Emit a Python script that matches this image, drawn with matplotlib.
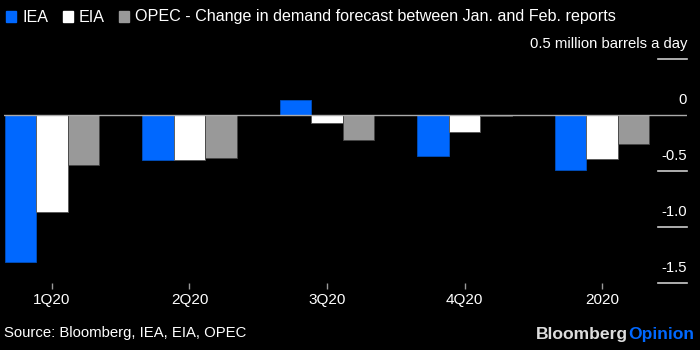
import numpy as np
import matplotlib.pyplot as plt
import matplotlib.transforms as mtransforms
from matplotlib.patches import Rectangle

plt.rcParams['font.family'] = ['Liberation Sans', 'DejaVu Sans']

periods = ['1Q20', '2Q20', '3Q20', '4Q20', '2020']
iea = [-1.31, -0.40, 0.13, -0.37, -0.49]
eia = [-0.87, -0.40, -0.07, -0.15, -0.39]
opec = [-0.45, -0.38, -0.22, -0.01, -0.26]
series = ['IEA', 'EIA', 'OPEC']
colors = ['#0068ff', '#ffffff', '#999999']
edges = ['#0050c0', '#555555', '#444444']
yticks = [0.5, -0.5, -1.0, -1.5]
ylabels = ['0.5 million barrels a day', '-0.5', '-1.0', '-1.5']

fig = plt.figure(figsize=(7, 3.5), dpi=100, facecolor='black')
ax = fig.add_axes([4/700, 67/350, 683/700, 224/350])
ax.set_facecolor('black')

x = np.arange(len(periods))
w = 0.228
for k, vals in enumerate([iea, eia, opec]):
    ax.bar(x + (k - 1) * w, vals, w, color=colors[k], edgecolor=edges[k],
           linewidth=0.6, zorder=2)

ax.axhline(0, color='#aaaaaa', lw=1, zorder=3)
ax.set_xlim(-0.349, 4.618)
ax.set_ylim(-1.5, 0.5)
for s in ax.spines.values():
    s.set_visible(False)

ax.set_xticks(x, periods)
ax.tick_params(axis='x', length=4.5, width=1, color='#999999', labelcolor='white',
               labelsize=11, pad=3)
ax.set_yticks([])

# right side value labels sitting above short tick lines
trans = mtransforms.blended_transform_factory(ax.transAxes, ax.transData)
for yv, lab in zip(yticks, ylabels):
    ax.plot([0.9575, 1.0], [yv, yv], color='#cccccc', lw=1.2, transform=trans,
            clip_on=False, zorder=3)
    ax.annotate(lab, xy=(1.0, yv), xycoords=trans, xytext=(0, 11),
                textcoords='offset points', ha='right', va='center',
                color='white', fontsize=10.7)
ax.annotate('0', xy=(1.0, 0), xycoords=trans, xytext=(0, 11),
            textcoords='offset points', ha='right', va='center',
            color='white', fontsize=10.7)

# legend / title line
ty = 1 - 17/350
sq = [(6, 23, 'IEA'), (63, 79, 'EIA'),
      (119, 135, 'OPEC - Change in demand forecast between Jan. and Feb. reports')]
for (sx, tx, lab), c in zip(sq, colors):
    fig.patches.append(Rectangle((sx/700, 1 - 22/350), 10/700, 11/350,
                                 transform=fig.transFigure, color=c))
    fig.text(tx/700, ty, lab, color='white', fontsize=11.6, va='center', ha='left')

fig.text(4/700, 1 - 333/350, 'Source: Bloomberg, IEA, EIA, OPEC', color='white',
         fontsize=10.7, va='center', ha='left')
op = fig.text(694/700, 1 - 334/350, 'Opinion', color='#0068ff', fontsize=12.6,
              fontweight='bold', va='center', ha='right')
ax.annotate('Bloomberg', xy=(0, 0.5), xycoords=op, ha='right', va='center',
            color='#dddddd', fontsize=12.6, fontweight='bold')

fig.savefig('out.png', dpi=100, facecolor='black')
